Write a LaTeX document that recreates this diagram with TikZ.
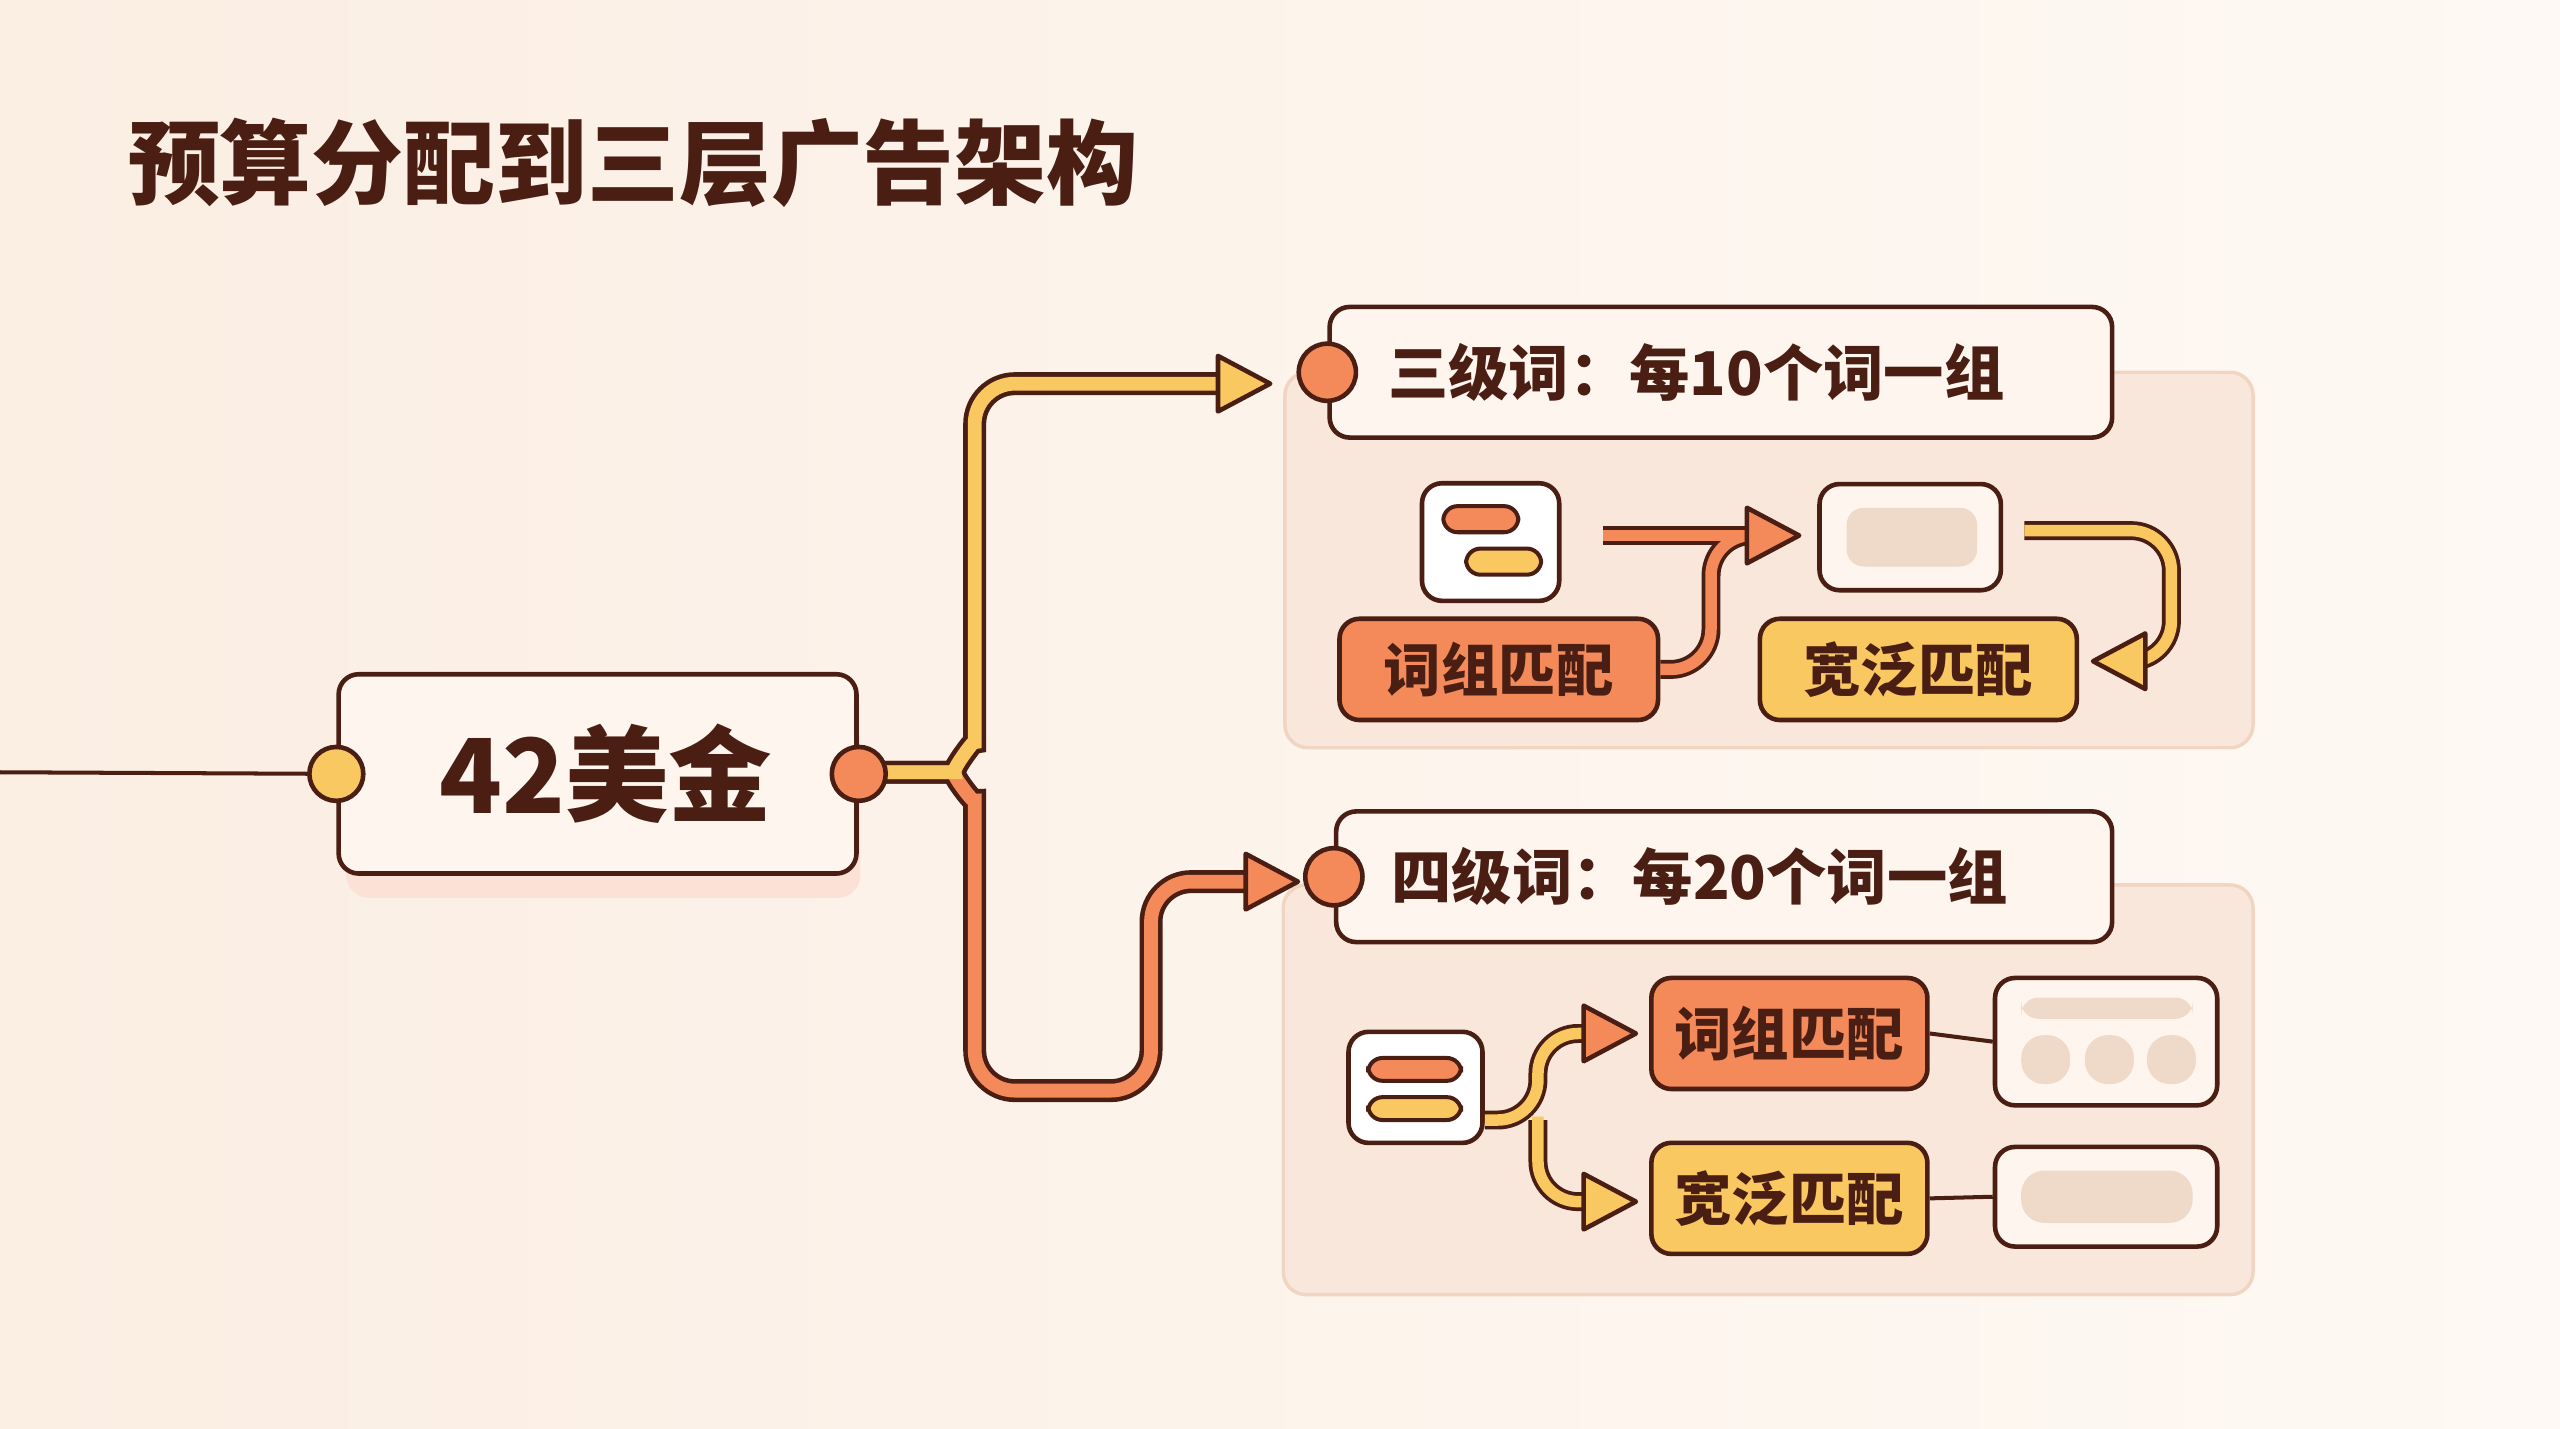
\documentclass[tikz,border=0pt]{standalone}
\usepackage{fontspec}
\setmainfont{Noto Sans CJK SC}
\usetikzlibrary{positioning}
\definecolor{dk}{HTML}{4A1E12}
\definecolor{bgA}{HTML}{FBEEE3}
\definecolor{bgB}{HTML}{FEF9F4}
\definecolor{org}{HTML}{F48A5A}
\definecolor{yel}{HTML}{F9C860}
\definecolor{panel}{HTML}{F8E7DA}
\definecolor{panelln}{HTML}{F0D6C2}
\definecolor{boxf}{HTML}{FDF5EE}
\definecolor{pill}{HTML}{EFD9C8}
\newcommand\ahead[3]{% tip, angle, fill
  \draw[dk,line width=0.8pt,line join=round,fill=#3,shift={(#1)},rotate=#2] (0,0) -- (-32,17) -- (-32,-17) -- cycle;}
\tikzset{
  box/.style={draw=dk,line width=0.8pt,rounded corners=3.5pt,fill=boxf,font=\bfseries,text=dk},
  tag/.style={box,minimum width=#1cm,minimum height=0.62cm,font=\bfseries\fontsize{10}{12}\selectfont},
  pnl/.style={draw=panelln,line width=0.6pt,fill=panel,rounded corners=4pt},
  dot/.style={circle,draw=dk,line width=0.8pt,minimum size=0.33cm,inner sep=0pt},
  pipe/.style={line width=4pt,dk,rounded corners=7pt},
  core/.style={line width=2.4pt,rounded corners=7pt},
}
\begin{document}
\begin{tikzpicture}[x=0.01cm,y=-0.01cm]
\useasboundingbox (0,0) rectangle (1568,875);
\shade[left color=bgA,right color=bgB] (0,0) rectangle (1568,875);
% title
\node[anchor=west,text=dk,font=\bfseries\fontsize{16}{18}\selectfont] (title) at (66,100) {预算分配到三层广告架构};
% panels
\draw[pnl] (787,228) rectangle (1380,458);
\draw[pnl] (786,542) rectangle (1380,793);
% main node
\fill[org!25,rounded corners=4pt] (212,440) rectangle (527,550);
\node[box,minimum width=3.17cm,minimum height=1.22cm,font=\bfseries\fontsize{18}{20}\selectfont] (money) at (366,474) {\hspace*{0.1cm}42美金};
\coordinate (src) at (0,473);
% headers
\node[box,minimum width=4.79cm,minimum height=0.8cm,anchor=west,font=\bfseries\fontsize{10.5}{12}\selectfont] (lvl3) at (813,228) {\hspace*{-0.3cm}三级词：每10个词一组};
\node[dot,fill=org,minimum size=0.35cm] (dot3) at (lvl3.west) {};
\node[box,minimum width=4.75cm,minimum height=0.8cm,anchor=west,font=\bfseries\fontsize{10.5}{12}\selectfont] (lvl4) at (817,537) {\hspace*{-0.3cm}四级词：每20个词一组};
\node[dot,fill=org,minimum size=0.35cm] (dot4) at (lvl4.west) {};
% branch arrows
\coordinate (hub) at (524,473);
\coordinate (t3) at (778,235);
\coordinate (t4) at (795,540);
\draw[pipe] (hub) -- (560,473) to[out=0,in=-90] (597,430) -- (597,235) -- (750,235);
\draw[pipe] (hub) -- (560,473) to[out=0,in=90] (597,515) -- (597,668) -- (705,668) -- (705,540) -- (765,540);
\draw[core,org] (hub) -- (560,473) to[out=0,in=90] (597,515) -- (597,668) -- (705,668) -- (705,540) -- (765,540);
\draw[core,yel] (hub) -- (560,473) to[out=0,in=-90] (597,430) -- (597,235) -- (750,235);
\ahead{t3}{0}{yel}
\ahead{t4}{0}{org}
\node[dot,fill=yel] (inDot) at (money.west) {};
\node[dot,fill=org] (outDot) at (money.east) {};
\draw[dk,line width=0.7pt] (src) -- (inDot);
% upper panel content
\node[box,minimum width=0.84cm,minimum height=0.72cm,fill=white] (ico3) at (913,332) {};
\draw[dk,line width=0.7pt,fill=org,rounded corners=2.5pt] (884,310) rectangle (930,326);
\draw[dk,line width=0.7pt,fill=yel,rounded corners=2.5pt] (898,336) rectangle (944,352);
\node[tag=1.95,fill=org] (ph3) at (918,410) {词组匹配};
\node[tag=1.94,fill=yel] (br3) at (1175,410) {宽泛匹配};
\node[box,minimum width=1.11cm,minimum height=0.65cm] (res3) at (1170,329) {};
\fill[pill,rounded corners=3pt] (1131,311) rectangle (1211,347);
\coordinate (a3) at (1102,328);
\coordinate (b3) at (1282,405);
\draw[pipe,line width=3.3pt] (982,328) -- (1075,328);
\draw[pipe,line width=3.3pt] (ph3.east) -- (1048,410) -- (1048,328) -- (1075,328);
\draw[core,org,line width=2pt] (982,328) -- (1075,328);
\draw[core,org,line width=2pt] (ph3.east) -- (1048,410) -- (1048,328) -- (1075,328);
\draw[pipe,line width=3.3pt] (1240,325) -- (1330,325) -- (1330,405) -- (1308,405);
\draw[core,yel,line width=2pt] (1240,325) -- (1330,325) -- (1330,405) -- (1308,405);
\ahead{a3}{0}{org}
\ahead{b3}{180}{yel}
% lower panel content
\node[box,minimum width=0.82cm,minimum height=0.68cm,fill=white] (ico4) at (867,666) {};
\draw[dk,line width=0.7pt,fill=org,rounded corners=2.5pt] (838,648) rectangle (895,662);
\draw[dk,line width=0.7pt,fill=yel,rounded corners=2.5pt] (838,672) rectangle (895,686);
\node[tag=1.69,minimum height=0.68cm,fill=org] (ph4) at (1096,633) {词组匹配};
\node[tag=1.69,minimum height=0.68cm,fill=yel] (br4) at (1096,734) {宽泛匹配};
\node[box,minimum width=1.36cm,minimum height=0.78cm] (res4a) at (1290,638) {};
\node[box,minimum width=1.36cm,minimum height=0.61cm] (res4b) at (1290,733) {};
\fill[pill,rounded corners=3pt] (1238,611) rectangle (1343,624);
\foreach \xa/\xb in {1238/1268,1277/1307,1315/1345}
  \fill[pill,rounded corners=4pt] (\xa,634) rectangle (\xb,664);
\fill[pill,rounded corners=4pt] (1238,717) rectangle (1343,749);
\draw[dk,line width=0.7pt] (ph4.east) -- (res4a.west);
\draw[dk,line width=0.7pt] (br4.east) -- (res4b.west);
\coordinate (a4) at (1002,633);
\coordinate (b4) at (1002,736);
\draw[pipe,line width=3.3pt] (ico4.east |- 0,686) -- (942,686) -- (942,633) -- (975,633);
\draw[pipe,line width=3.3pt] (942,686) -- (942,736) -- (975,736);
\draw[core,yel,line width=2pt] (ico4.east |- 0,686) -- (942,686) -- (942,633) -- (975,633);
\draw[core,yel,line width=2pt] (942,684) -- (942,736) -- (975,736);
\ahead{a4}{0}{org}
\ahead{b4}{0}{yel}
\end{tikzpicture}
\end{document}
